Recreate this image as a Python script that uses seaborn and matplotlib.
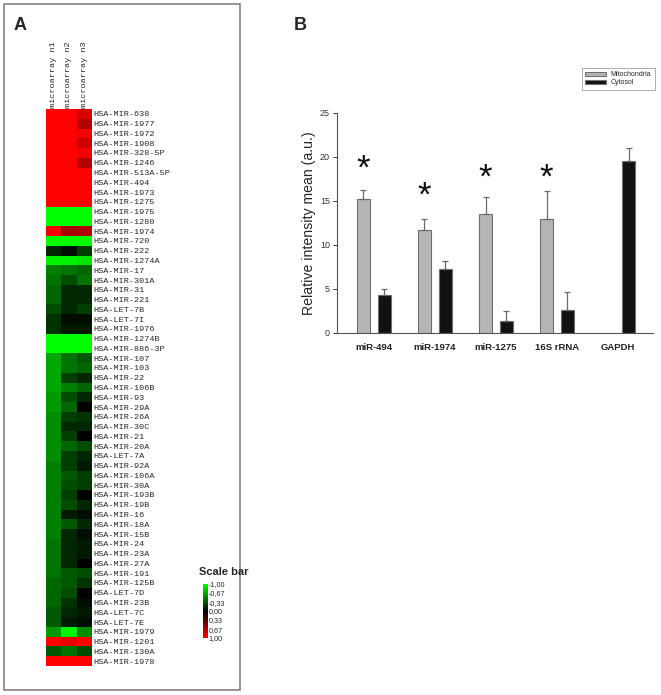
import numpy as np
import pandas as pd
import matplotlib
matplotlib.use("Agg")
import matplotlib.pyplot as plt
import seaborn as sns
from matplotlib.colors import LinearSegmentedColormap
from matplotlib.patches import Rectangle

# panel A - microarray heatmap
mirnas = ["HSA-MIR-638", "HSA-MIR-1977", "HSA-MIR-1972", "HSA-MIR-1908", "HSA-MIR-328-5P",
          "HSA-MIR-1246", "HSA-MIR-513A-5P", "HSA-MIR-494", "HSA-MIR-1973", "HSA-MIR-1275",
          "HSA-MIR-1975", "HSA-MIR-1280", "HSA-MIR-1974", "HSA-MIR-720", "HSA-MIR-222",
          "HSA-MIR-1274A", "HSA-MIR-17", "HSA-MIR-301A", "HSA-MIR-31", "HSA-MIR-221",
          "HSA-LET-7B", "HSA-LET-7I", "HSA-MIR-1976", "HSA-MIR-1274B", "HSA-MIR-886-3P",
          "HSA-MIR-107", "HSA-MIR-103", "HSA-MIR-22", "HSA-MIR-106B", "HSA-MIR-93",
          "HSA-MIR-29A", "HSA-MIR-26A", "HSA-MIR-30C", "HSA-MIR-21", "HSA-MIR-20A",
          "HSA-LET-7A", "HSA-MIR-92A", "HSA-MIR-106A", "HSA-MIR-30A", "HSA-MIR-193B",
          "HSA-MIR-19B", "HSA-MIR-16", "HSA-MIR-18A", "HSA-MIR-15B", "HSA-MIR-24",
          "HSA-MIR-23A", "HSA-MIR-27A", "HSA-MIR-191", "HSA-MIR-125B", "HSA-LET-7D",
          "HSA-MIR-23B", "HSA-LET-7C", "HSA-LET-7E", "HSA-MIR-1979", "HSA-MIR-1201",
          "HSA-MIR-130A", "HSA-MIR-1978"]
array_n1 = [1, 1, 1, 1, 1, 1, 1, 1, 1, 1,
            -1, -1, 0.95, -1, -0.15, -0.95, -0.5, -0.45, -0.4, -0.4,
            -0.3, -0.2, -0.2, -1, -1, -0.65, -0.65, -0.65, -0.65, -0.6,
            -0.6, -0.55, -0.55, -0.55, -0.55, -0.55, -0.5, -0.5, -0.5, -0.5,
            -0.5, -0.5, -0.5, -0.5, -0.45, -0.45, -0.45, -0.45, -0.4, -0.4,
            -0.4, -0.35, -0.35, -0.6, 1, -0.35, 1]
array_n2 = [1, 1, 1, 1, 1, 1, 1, 1, 1, 1,
            -1, -1, 0.65, -1, -0.05, -0.95, -0.45, -0.3, -0.15, -0.15,
            -0.15, -0.05, -0.1, -1, -1, -0.45, -0.45, -0.25, -0.5, -0.3,
            -0.4, -0.25, -0.15, -0.25, -0.4, -0.25, -0.25, -0.35, -0.3, -0.25,
            -0.3, -0.1, -0.35, -0.15, -0.15, -0.15, -0.15, -0.35, -0.35, -0.3,
            -0.2, -0.15, -0.1, -0.95, 0.9, -0.45, 1]
array_n3 = [0.85, 0.7, 0.95, 0.8, 0.95, 0.7, 1, 1, 1, 1,
            -1, -1, 0.7, -1, -0.25, -0.9, -0.4, -0.45, -0.15, -0.15,
            -0.25, -0.05, -0.1, -1, -1, -0.35, -0.4, -0.15, -0.4, -0.15,
            0, -0.2, -0.15, 0, -0.3, -0.15, -0.1, -0.25, -0.25, 0,
            -0.15, -0.05, -0.15, -0.05, -0.1, -0.1, 0, -0.3, -0.2, 0,
            -0.05, -0.1, -0.05, -0.55, 1, -0.3, 1]
arrays = ["microarray n1", "microarray n2", "microarray n3"]
scale_ticks = [-1, -0.67, -0.33, 0, 0.33, 0.67, 1]
scale_labels = ["-1,00", "-0,67", "-0,33", "0,00", "0,33", "0,67", "1,00"]

# panel B - relative intensity
targets = ["miR-494", "miR-1974", "miR-1275", "16S rRNA", "GAPDH"]
mito_mean = [15.2, 11.7, 13.5, 12.95, np.nan]
mito_err = [1.1, 1.2, 2.0, 3.2, np.nan]
cyto_mean = [4.3, 7.24, 1.36, 2.6, 19.55]
cyto_err = [0.67, 0.9, 1.1, 2.1, 1.45]
star_y = [19.0, 15.9, 17.95, 17.95]

sns.set_style("ticks")
plt.rcParams["font.family"] = ["Liberation Sans", "DejaVu Sans"]

fig = plt.figure(figsize=(6.61, 6.95), dpi=100)

# frame around panel A
fig.patches.append(Rectangle((4 / 661, 5 / 695), 236 / 661, 686 / 695, transform=fig.transFigure,
                             fill=False, edgecolor="#8c8c8c", linewidth=1.3))
fig.text(20 / 661, 1 - 25 / 695, "A", fontsize=13, fontweight="bold", ha="center", va="center")
fig.text(300 / 661, 1 - 25 / 695, "B", fontsize=13, fontweight="bold", ha="center", va="center")

heat = pd.DataFrame({arrays[0]: array_n1, arrays[1]: array_n2, arrays[2]: array_n3}, index=mirnas)
cmap = LinearSegmentedColormap.from_list("gbr", ["#00ff00", "#000000", "#ff0000"])

ax_h = fig.add_axes([46 / 661, 1 - 666 / 695, 46 / 661, 557 / 695])
cax = fig.add_axes([203 / 661, 1 - 638 / 695, 5 / 661, 54 / 695])
sns.heatmap(heat, ax=ax_h, cmap=cmap, vmin=-1, vmax=1, cbar_ax=cax,
            xticklabels=True, yticklabels=True)
ax_h.yaxis.tick_right()
ax_h.xaxis.tick_top()
ax_h.set_yticklabels(mirnas, rotation=0, fontsize=6.1, family="Liberation Mono")
ax_h.set_xticklabels(arrays, rotation=90, fontsize=6.1, family="Liberation Mono")
ax_h.tick_params(length=0, pad=1)
ax_h.set_xlabel("")
ax_h.set_ylabel("")

cbar = ax_h.collections[0].colorbar
cbar.outline.set_visible(False)
cax.invert_yaxis()
cax.set_yticks(scale_ticks)
cax.set_yticklabels(scale_labels)
cax.tick_params(length=0, pad=0.5, labelsize=5.2)
fig.text(224 / 661, 1 - 572 / 695, "Scale bar", fontsize=8, fontweight="bold", ha="center", va="center")

# panel B bars
bars = pd.DataFrame({
    "target": targets * 2,
    "fraction": ["Mitochondria"] * 5 + ["Cytosol"] * 5,
    "mean": mito_mean + cyto_mean,
    "err": mito_err + cyto_err,
}).dropna(subset=["mean"])

ax_b = fig.add_axes([337 / 661, 1 - 333 / 695, 316 / 661, 220 / 695])
sns.barplot(data=bars, x="target", y="mean", hue="fraction", order=targets,
            hue_order=["Mitochondria", "Cytosol"], palette=["#b5b5b5", "#111111"],
            width=0.68, gap=0.38, errorbar=None, edgecolor="#6e6e6e", linewidth=0.8, ax=ax_b)

for cont, frac in zip(ax_b.containers, ["Mitochondria", "Cytosol"]):
    sub = bars[bars["fraction"] == frac]
    for bar, err in zip(cont, sub["err"]):
        xc = bar.get_x() + bar.get_width() / 2
        ax_b.errorbar(xc, bar.get_height(), yerr=[[0], [err]], fmt="none",
                      ecolor="#6a6a6a", elinewidth=0.9, capsize=2.5, capthick=0.9)

mito_bars = ax_b.containers[0]
for bar, sy in zip(mito_bars, star_y):
    ax_b.text(bar.get_x() + bar.get_width() / 2, sy, "*", fontsize=25, ha="center",
              va="center_baseline", color="#111111")

ax_b.set_xlim(-0.6, 4.57)
ax_b.set_ylim(0, 25)
ax_b.set_yticks([0, 5, 10, 15, 20, 25])
ax_b.tick_params(axis="y", labelsize=6.5, length=3, width=0.7, colors="#333333", pad=2)
ax_b.tick_params(axis="x", length=0, pad=7)
for lab in ax_b.get_xticklabels():
    lab.set_fontsize(6.8)
    lab.set_fontweight("bold")
    lab.set_color("#222222")
ax_b.set_xlabel("")
ax_b.set_ylabel("Relative intensity mean (a.u.)", fontsize=10.2, labelpad=3)
sns.despine(ax=ax_b)
ax_b.spines["left"].set_color("#555555")
ax_b.spines["bottom"].set_color("#555555")

leg = ax_b.legend(loc="upper left", bbox_to_anchor=(582 / 661, 1 - 68 / 695),
                  bbox_transform=fig.transFigure, fontsize=5.0, frameon=True, fancybox=False,
                  handlelength=3, handleheight=0.6, borderpad=0.5, labelspacing=0.1,
                  handletextpad=0.6, borderaxespad=0)
leg.get_frame().set_edgecolor("#888888")
leg.get_frame().set_linewidth(0.6)

fig.savefig("out.png", dpi=100)
